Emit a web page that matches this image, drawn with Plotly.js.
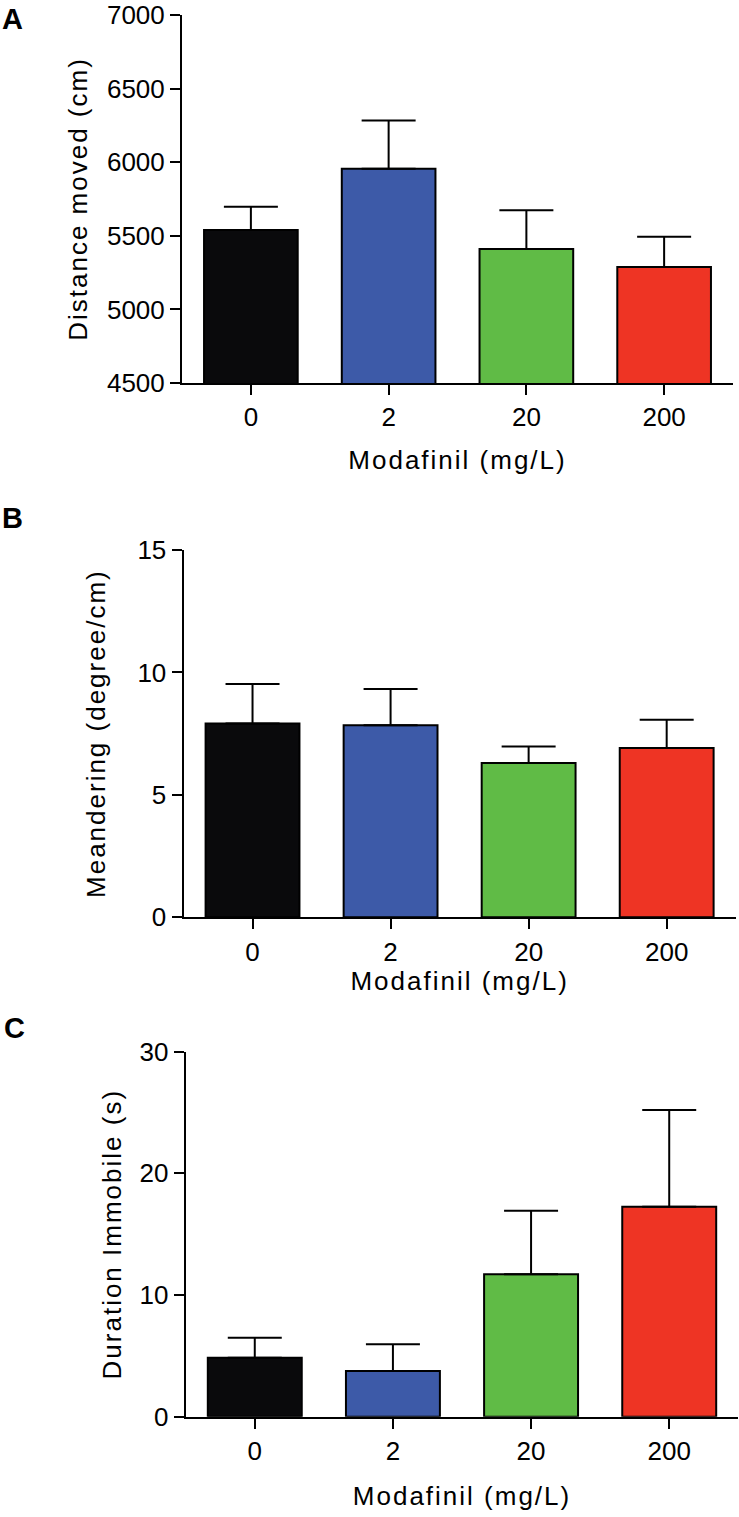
<!DOCTYPE html>
<html>
<head>
<meta charset="utf-8">
<script src="https://cdn.plot.ly/plotly-3.0.1.min.js"></script>
<style>
  html, body { margin: 0; padding: 0; background: #fff; }
  #chart { width: 739px; height: 1517px; }
  .xtitle, .x2title, .x3title, .ytitle, .y2title, .y3title { letter-spacing: 2px; }
</style>
</head>
<body>
<div id="chart"></div>
<script>
// ---- data ----
const categories = ['0', '2', '20', '200'];
const barColors = ['#0a0a0c', '#3d5aa8', '#60bb46', '#ee3424'];

const distanceMean = [5540, 5955, 5410, 5288];
const distanceSEM  = [157, 328, 263, 206];

const meanderMean = [7.91, 7.84, 6.30, 6.91];
const meanderSEM  = [1.62, 1.48, 0.68, 1.16];

const immobileMean = [4.85, 3.75, 11.70, 17.26];
const immobileSEM  = [1.64, 2.20, 5.23, 7.94];

const distanceTicks = [4500, 5000, 5500, 6000, 6500, 7000];
const meanderTicks = [0, 5, 10, 15];
const immobileTicks = [0, 10, 20, 30];

// ---- layout helpers ----
const W = 739, H = 1517;
const FONT = 'Liberation Sans, Arial, Helvetica, sans-serif';
function xd(l, r) { return [l / W, r / W]; }
function yd(top, bottom) { return [1 - bottom / H, 1 - top / H]; }

function barTrace(means, sems, xa, ya) {
  return {
    type: 'bar',
    x: categories,
    y: means,
    xaxis: xa, yaxis: ya,
    width: 0.68,
    marker: { color: barColors, line: { color: '#000', width: 2 } },
    error_y: {
      type: 'data', symmetric: false, array: sems,
      arrayminus: sems.map(() => 0),
      color: '#000', thickness: 2, width: 27, visible: true
    },
    hoverinfo: 'x+y',
    showlegend: false
  };
}

function xAxis(domain, anchor, standoff) {
  return {
    domain: domain, anchor: anchor, type: 'category',
    range: [-0.5, 3.5], fixedrange: true,
    showline: true, linewidth: 2, linecolor: '#000',
    ticks: 'outside', ticklen: 10, tickwidth: 2, tickcolor: '#000',
    showgrid: false, zeroline: false,
    tickfont: { family: FONT, size: 26, color: '#000' },
    title: { text: 'Modafinil (mg/L)', font: { family: FONT, size: 26, color: '#000' }, standoff: standoff }
  };
}

function yAxis(domain, anchor, range, tickvals, title, standoff) {
  return {
    domain: domain, anchor: anchor, range: range, fixedrange: true,
    tickvals: tickvals, ticktext: tickvals.map(String),
    showline: true, linewidth: 2, linecolor: '#000',
    ticks: 'outside', ticklen: 10, tickwidth: 2, tickcolor: '#000',
    showgrid: false, zeroline: false,
    tickfont: { family: FONT, size: 26, color: '#000' },
    title: { text: title, font: { family: FONT, size: 26, color: '#000' }, standoff: standoff }
  };
}

const data = [
  barTrace(distanceMean, distanceSEM, 'x', 'y'),
  barTrace(meanderMean, meanderSEM, 'x2', 'y2'),
  barTrace(immobileMean, immobileSEM, 'x3', 'y3')
];

function letter(txt, xpx, ypx) {
  return {
    text: '<b>' + txt + '</b>', xref: 'paper', yref: 'paper',
    x: xpx / W, y: 1 - ypx / H, xanchor: 'left', yanchor: 'middle',
    showarrow: false, font: { family: FONT, size: 29, color: '#000' }
  };
}

const layout = {
  width: W, height: H,
  margin: { l: 0, r: 0, t: 0, b: 0 },
  paper_bgcolor: '#fff', plot_bgcolor: '#fff',
  showlegend: false,
  xaxis: xAxis(xd(182, 733), 'y', 20),
  yaxis: yAxis(yd(15, 383), 'x', [4500, 7000], distanceTicks, 'Distance moved (cm)', 12),
  xaxis2: xAxis(xd(183.5, 735.7), 'y2', 6),
  yaxis2: yAxis(yd(550, 917.3), 'x2', [0, 15], meanderTicks, 'Meandering (degree/cm)', 24),
  xaxis3: xAxis(xd(185.7, 738.3), 'y3', 22),
  yaxis3: yAxis(yd(1051.7, 1416.7), 'x3', [0, 30], immobileTicks, 'Duration Immobile (s)', 10),
  annotations: [
    letter('A', 0, 19),
    letter('B', 0, 518),
    letter('C', 2, 1028)
  ]
};

Plotly.newPlot('chart', data, layout, { displayModeBar: false, responsive: false });
</script>
</body>
</html>
